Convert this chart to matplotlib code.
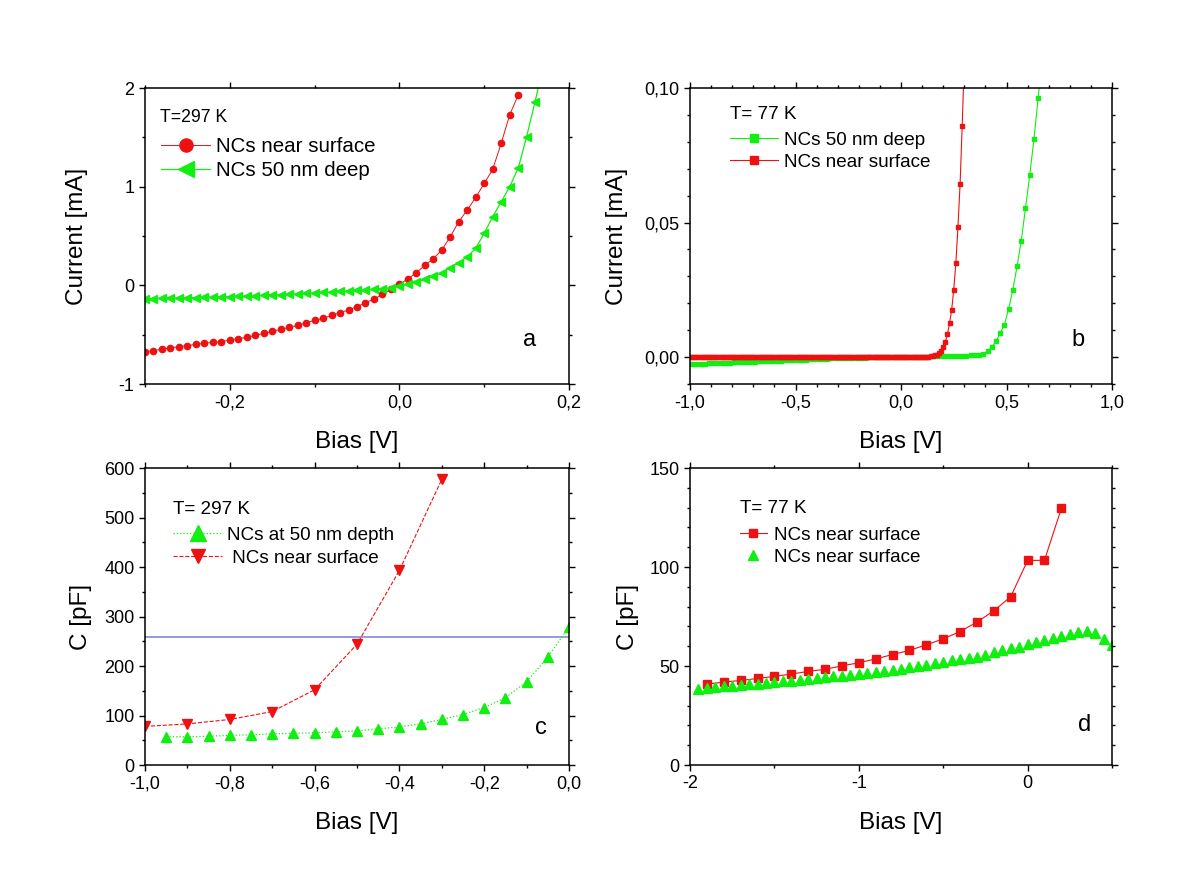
import numpy as np
import matplotlib
matplotlib.use("Agg")
from matplotlib import pyplot as plt
from matplotlib.ticker import MultipleLocator, FuncFormatter

plt.rcParams['font.family'] = ['Liberation Sans', 'DejaVu Sans']
plt.rcParams['axes.unicode_minus'] = False

# ---------------- panel a : I-V at 297 K ----------------
a_bias_red = np.round(np.arange(-0.30, 0.145, 0.01), 2)
a_red = [-0.672, -0.662, -0.648, -0.632, -0.622, -0.611, -0.598, -0.588, -0.578, -0.571,
         -0.554, -0.541, -0.527, -0.507, -0.487, -0.466, -0.446, -0.426, -0.406, -0.379,
         -0.355, -0.335, -0.304, -0.277, -0.250, -0.216, -0.176, -0.139, -0.092, -0.041,
         0.013, 0.064, 0.128, 0.202, 0.270, 0.358, 0.493, 0.645, 0.763, 0.891,
         1.033, 1.175, 1.438, 1.726, 1.928]
a_bias_green = np.round(np.arange(-0.30, 0.175, 0.01), 2)
a_green = [-0.139, -0.135, -0.132, -0.132, -0.129, -0.125, -0.125, -0.122, -0.118, -0.115,
           -0.115, -0.112, -0.108, -0.105, -0.102, -0.098, -0.095, -0.092, -0.088, -0.081,
           -0.078, -0.071, -0.068, -0.061, -0.058, -0.051, -0.048, -0.041, -0.034, -0.027,
           -0.007, 0.013, 0.037, 0.060, 0.094, 0.128, 0.179, 0.229, 0.290, 0.375,
           0.527, 0.695, 0.847, 0.999, 1.185, 1.506, 1.861, 2.250]

# ---------------- panel b : I-V at 77 K ----------------
b_bias_red = np.round(np.arange(-1.00, 0.305, 0.01), 2)
b_red = [
    -0.0001, -0.0001, -0.0001, -0.0001, -0.0001, -0.0001, -0.0001, -0.0001, -0.0001, -0.0001,
    -0.0001, -0.0001, -0.0001, -0.0001, -0.0001, -0.0001, -0.0001, -0.0001, -0.0001, -0.0001,
    -0.0001, -0.0001, -0.0001, -0.0001, -0.0001, -0.0001, -0.0001, -0.0001, -0.0001, -0.0001,
    -0.0001, -0.0001, -0.0001, -0.0001, -0.0001, -0.0001, -0.0001, -0.0001, -0.0001, -0.0001,
    -0.0001, -0.0001, -0.0001, -0.0001, -0.0001, -0.0001, -0.0001, -0.0001, -0.0001, -0.0001,
    0.0, 0.0, 0.0, 0.0, 0.0, 0.0, 0.0, 0.0, 0.0, 0.0,
    0.0, 0.0, 0.0, 0.0, 0.0, 0.0, 0.0, 0.0, 0.0, 0.0,
    0.0, 0.0, 0.0, 0.0, 0.0, 0.0, 0.0, 0.0, 0.0, 0.0,
    0.0, 0.0, 0.0, 0.0, 0.0, 0.0, 0.0, 0.0, 0.0, 0.0,
    0.0, 0.0, 0.0, 0.0, 0.0, 0.0, 0.0, 0.0, 0.0, 0.0,
    0.0, 0.0, 0.0, 0.0, 0.0, 0.0, 0.0, 0.0, 0.0, 0.0,
    0.0001, 0.0001, 0.0001, 0.0002, 0.0003, 0.0004, 0.0006, 0.0009, 0.0014, 0.0024,
    0.0038, 0.0057, 0.0084, 0.0126, 0.0175, 0.0250, 0.0350, 0.0485, 0.0642, 0.0859,
    0.1100]
b_bias_green = np.round(np.arange(-0.99, 0.675, 0.02), 2)
b_green = [-0.0025, -0.0025, -0.0024, -0.0024, -0.0023, -0.0023, -0.0022, -0.0022, -0.0021, -0.0021,
           -0.0020, -0.0019, -0.0019, -0.0018, -0.0018, -0.0017, -0.0016, -0.0016, -0.0015, -0.0014,
           -0.0014, -0.0013, -0.0012, -0.0012, -0.0011, -0.0010, -0.0010, -0.0009, -0.0008, -0.0008,
           -0.0007, -0.0006, -0.0006, -0.0005, -0.0005, -0.0004, -0.0004, -0.0003, -0.0003, -0.0002,
           -0.0002, -0.0002, -0.0001, -0.0001, -0.0001, 0.0, 0.0, 0.0, 0.0, 0.0,
           0.0, 0.0001, 0.0001, 0.0001, 0.0002, 0.0002, 0.0002, 0.0003, 0.0003, 0.0003,
           0.0003, 0.0004, 0.0004, 0.0004, 0.0005, 0.0005, 0.0006, 0.0006, 0.0007, 0.0012,
           0.0021, 0.0037, 0.0058, 0.0089, 0.0120, 0.0178, 0.0250, 0.0337, 0.0432, 0.0554,
           0.0675, 0.0810, 0.0963, 0.1120]

# ---------------- panel c : C-V at 297 K ----------------
c_bias_red = [-1.0, -0.9, -0.8, -0.7, -0.6, -0.5, -0.4, -0.3]
c_red = [78, 83, 92, 108, 152, 244, 393, 577]
c_bias_green = [-0.95, -0.90, -0.85, -0.80, -0.75, -0.70, -0.65, -0.60, -0.55, -0.50,
                -0.45, -0.40, -0.35, -0.30, -0.25, -0.20, -0.15, -0.10, -0.05, 0.0]
c_green = [57, 57, 58, 60, 61, 63, 64, 65, 67, 69,
           73, 77, 83, 92, 102, 116, 136, 168, 218, 279]
c_level = 258

# ---------------- panel d : C-V at 77 K ----------------
d_bias_red = [-1.9, -1.8, -1.7, -1.6, -1.5, -1.4, -1.3, -1.2, -1.1, -1.0, -0.9,
              -0.8, -0.7, -0.6, -0.5, -0.4, -0.3, -0.2, -0.1, 0.0, 0.1, 0.2]
d_red = [40.8, 41.9, 42.7, 43.7, 44.8, 45.9, 47.3, 48.3, 50.1, 51.6, 53.6,
         55.8, 57.9, 60.7, 63.7, 67.4, 72.2, 77.9, 85.0, 103.3, 103.4, 129.6]
d_bias_green = np.round(np.arange(-1.95, 0.505, 0.05), 2)
d_green = [38.5, 39.0, 39.5, 39.9, 40.1, 40.4, 40.7, 41.1, 41.4, 41.8,
           42.3, 42.6, 42.9, 43.3, 43.8, 44.3, 44.8, 45.1, 45.6, 46.1,
           46.5, 47.0, 47.6, 48.1, 48.6, 49.3, 50.0, 50.7, 51.3, 52.0,
           52.9, 53.4, 54.0, 54.7, 55.6, 56.9, 57.9, 58.9, 59.8, 60.9,
           62.1, 63.1, 64.1, 65.2, 66.2, 67.3, 67.7, 66.5, 63.6, 60.4]

RED = '#ee1111'
GREEN = '#11ee11'
LAB = 17.5     # axis label size
LEG = 13.6     # legend text size


def comma(dec):
    def f(v, pos):
        if abs(v) < 1e-12:
            v = 0.0
        return f"{v:.{dec}f}".replace('.', ',')
    return FuncFormatter(f)


def style(ax, xlim, ylim, xmaj, xmin, ymaj, ymin, xdec, ydec, ylab, ylab_x):
    ax.set_xlim(xlim)
    ax.set_ylim(ylim)
    ax.xaxis.set_major_locator(MultipleLocator(xmaj))
    ax.xaxis.set_minor_locator(MultipleLocator(xmin))
    ax.yaxis.set_major_locator(MultipleLocator(ymaj))
    ax.yaxis.set_minor_locator(MultipleLocator(ymin))
    ax.xaxis.set_major_formatter(comma(xdec))
    ax.yaxis.set_major_formatter(comma(ydec))
    ax.tick_params(which='both', direction='out', top=True, right=True,
                   labelsize=13, width=1.0, pad=3)
    ax.tick_params(which='major', length=4.5)
    ax.tick_params(which='minor', length=2.5)
    for s in ax.spines.values():
        s.set_linewidth(1.1)
    ax.set_xlabel('Bias [V]', fontsize=LAB)
    ax.xaxis.set_label_coords(0.5, -0.158)
    ax.set_ylabel(ylab, fontsize=LAB)
    ax.yaxis.set_label_coords(ylab_x, 0.5)


fig = plt.figure(figsize=(12, 8.96), dpi=100)
W, H = 1200, 896
axa = fig.add_axes([145 / W, 1 - 384 / H, 424 / W, 296 / H])
axb = fig.add_axes([690 / W, 1 - 384 / H, 422 / W, 296 / H])
axc = fig.add_axes([145 / W, 1 - 765 / H, 424 / W, 297 / H])
axd = fig.add_axes([690 / W, 1 - 765 / H, 422 / W, 297 / H])

# a
axa.plot(a_bias_red, a_red, '-', color=RED, lw=0.7, marker='o', ms=4.5,
         mec=RED, mfc=RED, label='NCs near surface')
axa.plot(a_bias_green, a_green, '-', color=GREEN, lw=0.9, marker='<', ms=5.5,
         mec=GREEN, mfc=GREEN, label='NCs 50 nm deep')
style(axa, (-0.3, 0.2), (-1, 2), 0.2, 0.1, 1, 0.5, 1, 0, 'Current [mA]', -0.135)
axa.text(0.035, 0.899, 'T=297 K', transform=axa.transAxes, fontsize=12.7, va='center')
axa.legend(loc='upper left', bbox_to_anchor=(0.038, 0.835), frameon=False, fontsize=14.8,
           markerscale=2.1, handlelength=2.4, handletextpad=0.25, labelspacing=0.24,
           borderaxespad=0, borderpad=0)
axa.text(0.908, 0.149, 'a', transform=axa.transAxes, fontsize=17, ha='center', va='center')

# b
axb.plot(b_bias_green, b_green, '-', color=GREEN, lw=0.8, marker='s', ms=2.6,
         mec=GREEN, mfc=GREEN, label='NCs 50 nm deep')
axb.plot(b_bias_red, b_red, '-', color=RED, lw=0.8, marker='s', ms=2.6,
         mec=RED, mfc=RED, label='NCs near surface')
style(axb, (-1, 1), (-0.01, 0.10), 0.5, 0.1, 0.05, 0.01, 1, 2, 'Current [mA]', -0.147)
axb.text(0.095, 0.912, 'T= 77 K', transform=axb.transAxes, fontsize=LEG, va='center')
axb.legend(loc='upper left', bbox_to_anchor=(0.095, 0.853), frameon=False, fontsize=LEG,
           markerscale=2.2, handlelength=2.54, handletextpad=0.32, labelspacing=0.26,
           borderaxespad=0, borderpad=0)
axb.text(0.919, 0.149, 'b', transform=axb.transAxes, fontsize=17, ha='center', va='center')

# c
axc.axhline(c_level, color='#9090dc', lw=1.3)
axc.plot(c_bias_green, c_green, ':', color=GREEN, lw=0.9, marker='^', ms=7.5,
         mec=GREEN, mfc=GREEN, label='NCs at 50 nm depth')
axc.plot(c_bias_red, c_red, '--', color=RED, lw=0.8, marker='v', ms=6.5,
         mec=RED, mfc=RED, label=' NCs near surface')
style(axc, (-1, 0), (0, 600), 0.2, 0.1, 100, 50, 1, 0, 'C [pF]', -0.125)
axc.text(0.066, 0.859, 'T= 297 K', transform=axc.transAxes, fontsize=LEG, va='center')
axc.legend(loc='upper left', bbox_to_anchor=(0.066, 0.803), frameon=False, fontsize=LEG,
           markerscale=1.6, handlelength=2.6, handletextpad=0.27, labelspacing=0.3,
           borderaxespad=0, borderpad=0)
axc.text(0.934, 0.125, 'c', transform=axc.transAxes, fontsize=17, ha='center', va='center')

# d
axd.plot(d_bias_red, d_red, '-', color=RED, lw=0.8, marker='s', ms=5.5,
         mec=RED, mfc=RED, label='NCs near surface')
axd.plot(d_bias_green, d_green, ls='none', marker='^', ms=7.5,
         mec=GREEN, mfc=GREEN, label='NCs near surface')
style(axd, (-2, 0.5), (0, 150), 1, 0.5, 50, 10, 0, 0, 'C [pF]', -0.121)
axd.text(0.118, 0.862, 'T= 77 K', transform=axd.transAxes, fontsize=LEG, va='center')
axd.legend(loc='upper left', bbox_to_anchor=(0.118, 0.803), frameon=False, fontsize=LEG,
           markerscale=1.0, handlelength=1.45, handletextpad=0.37, labelspacing=0.26,
           borderaxespad=0, borderpad=0)
axd.text(0.936, 0.135, 'd', transform=axd.transAxes, fontsize=17, ha='center', va='center')

fig.savefig('out.png', dpi=100)
